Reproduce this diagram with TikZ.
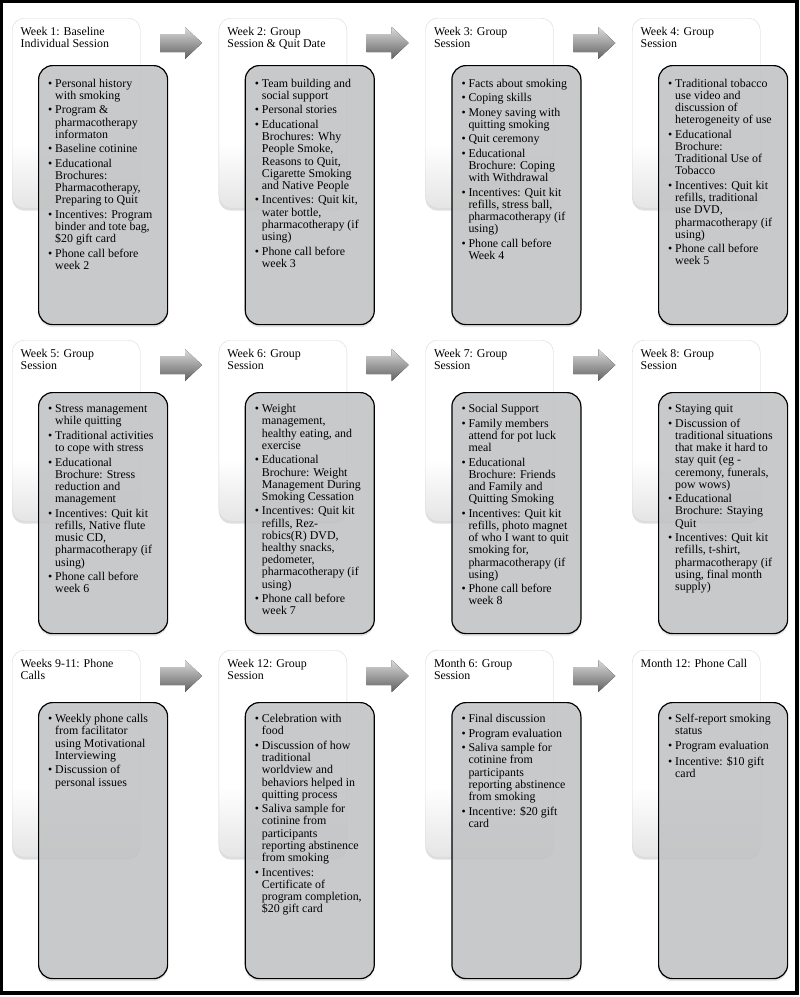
\documentclass[tikz,border=0pt]{standalone}
\usepackage{fontspec}
\setmainfont{Liberation Serif}
\usetikzlibrary{shadows}
\definecolor{boxgray}{HTML}{C4C5C6}
\pgfdeclareverticalshading{cardshade}{100bp}{color(0bp)=(black!30); color(12bp)=(black!18); color(42bp)=(white); color(100bp)=(white)}
\newcommand\fsz{\fontsize{11.9bp}{12.2bp}\selectfont}
\newcommand\bl{\strut\makebox[7bp][l]{\textbullet}}
\newcommand\cl{\hspace*{7bp}}
\begin{document}
\begin{tikzpicture}[x=1bp,y=-1bp,
  card/.style={anchor=north west, minimum width=128bp, rounded corners=12bp, draw=black!15, line width=0.4bp, shading=cardshade, drop shadow={opacity=0.25, shadow xshift=0bp, shadow yshift=-2.5bp}, inner sep=0pt},
  panel/.style={anchor=north west, minimum width=129bp, rounded corners=14bp, draw=black, line width=1.2bp, fill=boxgray, fill opacity=0.86, draw opacity=1, inner sep=0pt, drop shadow={opacity=0.2, shadow xshift=0bp, shadow yshift=-2.5bp}},
  ttl/.style={anchor=north west, inner sep=0pt, align=left, font=\fsz, xshift=8.5bp, yshift=-9bp},
  items/.style={anchor=north west, inner sep=0pt, align=left, font=\fsz, xshift=10bp, yshift=-13.5bp},
  blk/.style={top color=black!14, bottom color=black!62, draw=none}
]
\useasboundingbox (0,0) rectangle (800,997);
\fill[white] (0,0) rectangle (800,997);
\draw[line width=3.4bp] (1.7,1.7) rectangle (797,993);

% ---------- Row 1 ----------
\node[card, minimum height=190bp] (c1) at (12,18) {};
\node[panel, minimum height=259bp] (p1) at (38,65) {};
\node[card, minimum height=190bp] (c2) at (218.7,18) {};
\node[panel, minimum height=259bp] (p2) at (244.7,65) {};
\node[card, minimum height=190bp] (c3) at (425.3,18) {};
\node[panel, minimum height=259bp] (p3) at (451.3,65) {};
\node[card, minimum height=190bp] (c4) at (632,18) {};
\node[panel, minimum height=259bp] (p4) at (658,65) {};

\node[ttl] (t1) at (c1.north west) {\strut Week 1: Baseline\\Individual Session};
\node[ttl] (t2) at (c2.north west) {\strut Week 2: Group\\Session \& Quit Date};
\node[ttl] (t3) at (c3.north west) {\strut Week 3: Group\\Session};
\node[ttl] (t4) at (c4.north west) {\strut Week 4: Group\\Session};

\node[items] (i1) at (p1.north west) {\bl Personal history\\\cl with smoking\\[2.3bp]
\bl Program \&\\\cl pharmacotherapy\\\cl informaton\\[2.3bp]
\bl Baseline cotinine\\[2.3bp]
\bl Educational\\\cl Brochures:\\\cl Pharmacotherapy,\\\cl Preparing to Quit\\[2.3bp]
\bl Incentives: Program\\\cl binder and tote bag,\\\cl \$20 gift card\\[2.3bp]
\bl Phone call before\\\cl week 2};

\node[items] (i2) at (p2.north west) {\bl Team building and\\\cl social support\\[2.3bp]
\bl Personal stories\\[2.3bp]
\bl Educational\\\cl Brochures: Why\\\cl People Smoke,\\\cl Reasons to Quit,\\\cl Cigarette Smoking\\\cl and Native People\\[2.3bp]
\bl Incentives: Quit kit,\\\cl water bottle,\\\cl pharmacotherapy (if\\\cl using)\\[2.3bp]
\bl Phone call before\\\cl week 3};

\node[items] (i3) at (p3.north west) {\bl Facts about smoking\\[2.3bp]
\bl Coping skills\\[2.3bp]
\bl Money saving with\\\cl quitting smoking\\[2.3bp]
\bl Quit ceremony\\[2.3bp]
\bl Educational\\\cl Brochure: Coping\\\cl with Withdrawal\\[2.3bp]
\bl Incentives: Quit kit\\\cl refills, stress ball,\\\cl pharmacotherapy (if\\\cl using)\\[2.3bp]
\bl Phone call before\\\cl Week 4};

\node[items] (i4) at (p4.north west) {\bl Traditional tobacco\\\cl use video and\\\cl discussion of\\\cl heterogeneity of use\\[2.3bp]
\bl Educational\\\cl Brochure:\\\cl Traditional Use of\\\cl Tobacco\\[2.3bp]
\bl Incentives: Quit kit\\\cl refills, traditional\\\cl use DVD,\\\cl pharmacotherapy (if\\\cl using)\\[2.3bp]
\bl Phone call before\\\cl week 5};

% ---------- Row 2 ----------
\node[card, minimum height=181bp] (c5) at (12,340) {};
\node[panel, minimum height=241bp] (p5) at (38,392) {};
\node[card, minimum height=181bp] (c6) at (218.7,340) {};
\node[panel, minimum height=241bp] (p6) at (244.7,392) {};
\node[card, minimum height=181bp] (c7) at (425.3,340) {};
\node[panel, minimum height=241bp] (p7) at (451.3,392) {};
\node[card, minimum height=181bp] (c8) at (632,340) {};
\node[panel, minimum height=241bp] (p8) at (658,392) {};

\node[ttl] (t5) at (c5.north west) {\strut Week 5: Group\\Session};
\node[ttl] (t6) at (c6.north west) {\strut Week 6: Group\\Session};
\node[ttl] (t7) at (c7.north west) {\strut Week 7: Group\\Session};
\node[ttl] (t8) at (c8.north west) {\strut Week 8: Group\\Session};

\node[items, yshift=1.5bp] (i5) at (p5.north west) {\bl Stress management\\\cl while quitting\\[2.3bp]
\bl Traditional activities\\\cl to cope with stress\\[2.3bp]
\bl Educational\\\cl Brochure: Stress\\\cl reduction and\\\cl management\\[2.3bp]
\bl Incentives: Quit kit\\\cl refills, Native flute\\\cl music CD,\\\cl pharmacotherapy (if\\\cl using)\\[2.3bp]
\bl Phone call before\\\cl week 6};

\node[items, yshift=1.5bp] (i6) at (p6.north west) {\bl Weight\\\cl management,\\\cl healthy eating, and\\\cl exercise\\[2.3bp]
\bl Educational\\\cl Brochure: Weight\\\cl Management During\\\cl Smoking Cessation\\[2.3bp]
\bl Incentives: Quit kit\\\cl refills, Rez-\\\cl robics(R) DVD,\\\cl healthy snacks,\\\cl pedometer,\\\cl pharmacotherapy (if\\\cl using)\\[2.3bp]
\bl Phone call before\\\cl week 7};

\node[items, yshift=1.5bp] (i7) at (p7.north west) {\bl Social Support\\[2.3bp]
\bl Family members\\\cl attend for pot luck\\\cl meal\\[2.3bp]
\bl Educational\\\cl Brochure: Friends\\\cl and Family and\\\cl Quitting Smoking\\[2.3bp]
\bl Incentives: Quit kit\\\cl refills, photo magnet\\\cl of who I want to quit\\\cl smoking for,\\\cl pharmacotherapy (if\\\cl using)\\[2.3bp]
\bl Phone call before\\\cl week 8};

\node[items, yshift=1.5bp] (i8) at (p8.north west) {\bl Staying quit\\[2.3bp]
\bl Discussion of\\\cl traditional situations\\\cl that make it hard to\\\cl stay quit (eg -\\\cl ceremony, funerals,\\\cl pow wows)\\[2.3bp]
\bl Educational\\\cl Brochure: Staying\\\cl Quit\\[2.3bp]
\bl Incentives: Quit kit\\\cl refills, t-shirt,\\\cl pharmacotherapy (if\\\cl using, final month\\\cl supply)};

% ---------- Row 3 ----------
\node[card, minimum height=207bp] (c9) at (12,650) {};
\node[panel, minimum height=276bp] (p9) at (38,702) {};
\node[card, minimum height=207bp] (c10) at (218.7,650) {};
\node[panel, minimum height=276bp] (p10) at (244.7,702) {};
\node[card, minimum height=207bp] (c11) at (425.3,650) {};
\node[panel, minimum height=276bp] (p11) at (451.3,702) {};
\node[card, minimum height=207bp] (c12) at (632,650) {};
\node[panel, minimum height=276bp] (p12) at (658,702) {};

\node[ttl] (t9) at (c9.north west) {\strut Weeks 9-11: Phone\\Calls};
\node[ttl] (t10) at (c10.north west) {\strut Week 12: Group\\Session};
\node[ttl] (t11) at (c11.north west) {\strut Month 6: Group\\Session};
\node[ttl] (t12) at (c12.north west) {\strut Month 12: Phone Call};

\node[items, yshift=1.5bp] (i9) at (p9.north west) {\bl Weekly phone calls\\\cl from facilitator\\\cl using Motivational\\\cl Interviewing\\[2.3bp]
\bl Discussion of\\\cl personal issues};

\node[items, yshift=1.5bp] (i10) at (p10.north west) {\bl Celebration with\\\cl food\\[2.3bp]
\bl Discussion of how\\\cl traditional\\\cl worldview and\\\cl behaviors helped in\\\cl quitting process\\[2.3bp]
\bl Saliva sample for\\\cl cotinine from\\\cl participants\\\cl reporting abstinence\\\cl from smoking\\[2.3bp]
\bl Incentives:\\\cl Certificate of\\\cl program completion,\\\cl \$20 gift card};

\node[items, yshift=1.5bp] (i11) at (p11.north west) {\bl Final discussion\\[2.3bp]
\bl Program evaluation\\[2.3bp]
\bl Saliva sample for\\\cl cotinine from\\\cl participants\\\cl reporting abstinence\\\cl from smoking\\[2.3bp]
\bl Incentive: \$20 gift\\\cl card};

\node[items, yshift=1.5bp] (i12) at (p12.north west) {\bl Self-report smoking\\\cl status\\[2.3bp]
\bl Program evaluation\\[2.3bp]
\bl Incentive: \$10 gift\\\cl card};

% ---------- Block arrows ----------
\foreach \cy in {43,365,676}{
  \foreach \xo in {160,366.7,573.3}{
    \fill[blk] (\xo,\cy-9) -- (\xo+25,\cy-9) -- (\xo+25,\cy-16) -- (\xo+42,\cy)
      -- (\xo+25,\cy+16) -- (\xo+25,\cy+9) -- (\xo,\cy+9) -- cycle;
  }
}
\end{tikzpicture}
\end{document}
